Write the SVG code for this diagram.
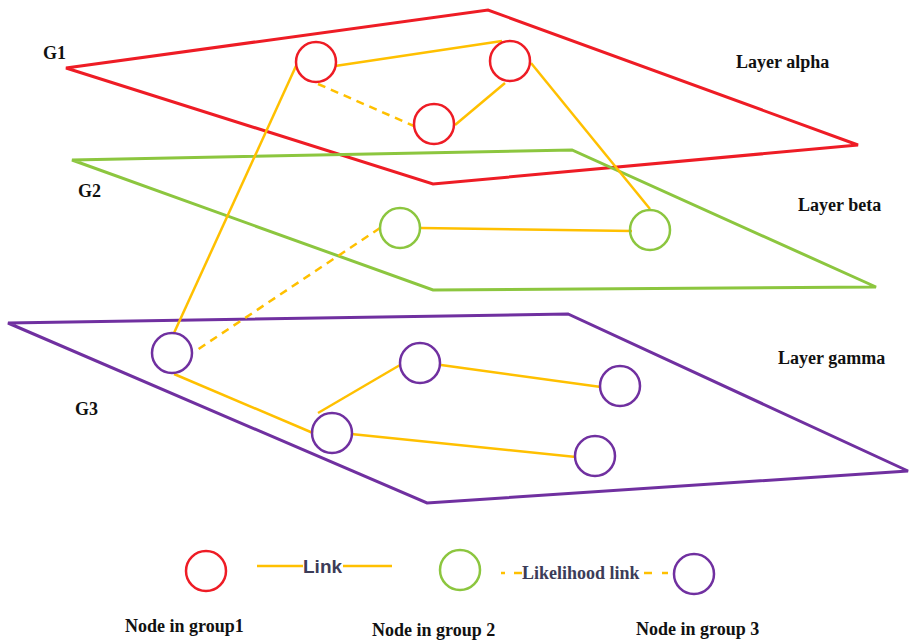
<svg xmlns="http://www.w3.org/2000/svg" width="910" height="642" viewBox="0 0 910 642">
<style>
.plane{fill:none;stroke-width:3;stroke-linejoin:miter}
.red{stroke:#EE1C25}
.green{stroke:#8CC63F}
.purple{stroke:#7030A0}
.node{fill:none;stroke-width:2.5}
.link{stroke:#FFC000;stroke-width:2.5;fill:none}
.dash{stroke-dasharray:8 6}
.lbl{font-family:"Liberation Serif","Times New Roman",serif;font-weight:bold;font-size:18px;fill:#111}
</style>
<rect width="910" height="642" fill="#fff"/>
<g id="planes">
<polygon class="plane red" points="66,68 488,10 858,145 433,184"/>
<polygon class="plane green" points="72,160 572,150 876,287 433,290"/>
<polygon class="plane purple" points="8,323 568,314 908,471 427,503"/>
</g>
<g id="connectors">
<line class="link" x1="335" y1="66" x2="502" y2="41"/>
<line class="link" x1="505" y1="83" x2="455" y2="125"/>
<line class="link dash" x1="318" y1="84" x2="414" y2="126"/>
<line class="link" x1="296" y1="66" x2="174" y2="333"/>
<line class="link" x1="531" y1="63" x2="650" y2="209"/>
<line class="link" x1="421" y1="228" x2="632" y2="231"/>
<line class="link dash" x1="380" y1="228" x2="194" y2="352"/>
<line class="link" x1="174" y1="374" x2="313" y2="433"/>
<line class="link" x1="318" y1="413" x2="400" y2="365"/>
<line class="link" x1="441" y1="365" x2="601" y2="387"/>
<line class="link" x1="351" y1="434" x2="576" y2="457"/>
</g>
<g id="n-r1"><circle class="node red" cx="316" cy="62" r="20"/></g>
<g id="n-r2"><circle class="node red" cx="510" cy="61" r="20"/></g>
<g id="n-r3"><circle class="node red" cx="434" cy="124" r="20"/></g>
<g id="n-g1"><circle class="node green" cx="400" cy="228" r="20"/></g>
<g id="n-g2"><circle class="node green" cx="650" cy="230" r="20"/></g>
<g id="n-p1"><circle class="node purple" cx="172" cy="353" r="20"/></g>
<g id="n-p2"><circle class="node purple" cx="420" cy="363" r="20"/></g>
<g id="n-p3"><circle class="node purple" cx="620" cy="386" r="20"/></g>
<g id="n-p4"><circle class="node purple" cx="332" cy="433" r="20"/></g>
<g id="n-p5"><circle class="node purple" cx="595" cy="456" r="20"/></g>
<g id="labels">
<text class="lbl" x="43" y="59">G1</text>
<text class="lbl" x="736" y="68">Layer alpha</text>
<text class="lbl" x="78" y="197">G2</text>
<text class="lbl" x="798" y="211">Layer beta</text>
<text class="lbl" x="778" y="364">Layer gamma</text>
<text class="lbl" x="75" y="415">G3</text>
</g>
<g id="legend">
<circle class="node red" cx="206" cy="571" r="20"/>
<line class="link" x1="257" y1="566" x2="303" y2="566"/>
<text x="303" y="573" font-family="Liberation Sans,Arial,sans-serif" font-weight="bold" font-size="19" fill="#3c3c58">Link</text>
<line class="link" x1="343" y1="566" x2="392" y2="566"/>
<circle class="node green" cx="460" cy="570" r="20"/>
<line class="link" x1="501" y1="573" x2="505" y2="573"/>
<line class="link" x1="514" y1="573" x2="522" y2="573"/>
<text x="522" y="579" font-family="Liberation Serif,Times New Roman,serif" font-weight="bold" font-size="18" fill="#3c3c58">Likelihood link</text>
<line class="link" x1="644" y1="573" x2="652" y2="573"/>
<line class="link" x1="662" y1="573" x2="668" y2="573"/>
<circle class="node purple" cx="694" cy="574" r="20"/>
<text class="lbl" x="125" y="632">Node in group1</text>
<text class="lbl" x="372" y="636">Node in group 2</text>
<text class="lbl" x="636" y="635">Node in group 3</text>
</g>
</svg>
